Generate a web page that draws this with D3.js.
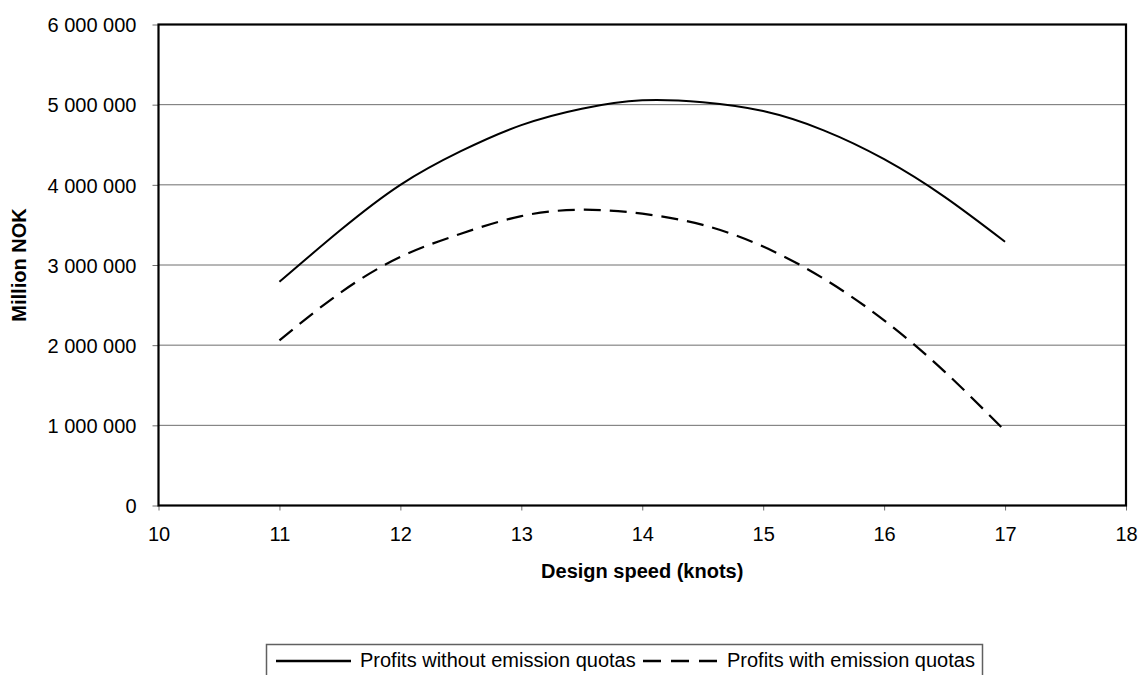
<!DOCTYPE html>
<html>
<head>
<meta charset="utf-8">
<script src="https://cdn.jsdelivr.net/npm/d3@7"></script>
<style>
  body { margin: 0; background: #fff; overflow: hidden; }
  text { font-family: "Liberation Sans", Arial, sans-serif; }
  .axis-title { font-weight: bold; font-size: 20px; }
</style>
</head>
<body>
<div id="chart"></div>
<script>
const width = 1139;
const height = 675;
const margin = { top: 24.5, right: 13, bottom: 169.5, left: 158.5 };
const innerWidth = width - margin.left - margin.right;
const innerHeight = height - margin.top - margin.bottom;

// data
const speeds = [11, 11.5, 12, 12.5, 13, 13.5, 14, 14.5, 15, 15.5, 16, 16.5, 17];
const profitsNoQuota = [2790000, 3430000, 4000000, 4420000, 4745000, 4950000, 5055000, 5030000, 4920000, 4680000, 4320000, 3850000, 3290000];
const profitsQuota = [2060000, 2650000, 3100000, 3390000, 3610000, 3690000, 3640000, 3500000, 3230000, 2830000, 2310000, 1670000, 930000];
const seriesNames = ["Profits without emission quotas", "Profits with emission quotas"];
const xTicks = [10, 11, 12, 13, 14, 15, 16, 17, 18];
const yTicks = [0, 1000000, 2000000, 3000000, 4000000, 5000000, 6000000];

const svg = d3.select("#chart")
    .append("svg")
    .attr("width", width)
    .attr("height", height)
    .style("display", "block");

const g = svg.append("g")
    .attr("transform", `translate(${margin.left},${margin.top})`);

const x = d3.scaleLinear().domain([10, 18]).range([0, innerWidth]);
const y = d3.scaleLinear().domain([0, 6000000]).range([innerHeight, 0]);

const fmt = d => d3.format(",")(d).replace(/,/g, " ");

// gridlines
g.selectAll(".grid")
    .data(yTicks.slice(1, -1))
    .enter()
    .append("line")
    .attr("x1", 0)
    .attr("x2", innerWidth)
    .attr("y1", d => y(d))
    .attr("y2", d => y(d))
    .attr("stroke", "#6e6e6e")
    .attr("stroke-width", 1);

// axes
const xAxis = g.append("g")
    .attr("transform", `translate(0,${innerHeight})`)
    .call(d3.axisBottom(x).tickValues(xTicks).tickSize(5).tickPadding(16).tickSizeOuter(0));

const yAxis = g.append("g")
    .call(d3.axisLeft(y).tickValues(yTicks).tickFormat(fmt).tickSize(6).tickPadding(16).tickSizeOuter(0));

[xAxis, yAxis].forEach(a => {
    a.attr("font-size", 20).attr("font-family", "Liberation Sans, Arial, sans-serif");
    a.select(".domain").remove();
    a.selectAll(".tick line").attr("stroke", "#6e6e6e");
    a.selectAll(".tick text").attr("fill", "#000");
});
yAxis.selectAll(".tick text").attr("dy", "0.36em");

// plot frame
g.append("rect")
    .attr("x", 0)
    .attr("y", 0)
    .attr("width", innerWidth)
    .attr("height", innerHeight)
    .attr("fill", "none")
    .attr("stroke", "#000")
    .attr("stroke-width", 2.2);

// lines
const line = d3.line()
    .x((d, i) => x(speeds[i]))
    .y(d => y(d))
    .curve(d3.curveNatural);

g.append("path")
    .datum(profitsNoQuota)
    .attr("d", line)
    .attr("fill", "none")
    .attr("stroke", "#000")
    .attr("stroke-width", 2);

g.append("path")
    .datum(profitsQuota)
    .attr("d", line)
    .attr("fill", "none")
    .attr("stroke", "#000")
    .attr("stroke-width", 2.2)
    .attr("stroke-dasharray", "17,9");

// axis titles
svg.append("text")
    .attr("class", "axis-title")
    .attr("x", margin.left + innerWidth / 2)
    .attr("y", 578)
    .style("text-anchor", "middle")
    .text("Design speed (knots)");

svg.append("text")
    .attr("class", "axis-title")
    .attr("transform", `translate(26,${margin.top + innerHeight / 2}) rotate(-90)`)
    .style("text-anchor", "middle")
    .text("Million NOK");

// legend (box runs past the bottom edge, as in the original)
const legend = svg.append("g");
legend.append("path")
    .attr("d", "M266.5,676V644.5H982.5V676")
    .attr("fill", "#fff")
    .attr("stroke", "#606060")
    .attr("stroke-width", 1.5);

const legendItems = [
    { name: seriesNames[0], x: 276, dash: null },
    { name: seriesNames[1], x: 643, dash: "18,10" }
];
legendItems.forEach(item => {
    legend.append("line")
        .attr("x1", item.x)
        .attr("x2", item.x + 75)
        .attr("y1", 661)
        .attr("y2", 661)
        .attr("stroke", "#000")
        .attr("stroke-width", 2.5)
        .attr("stroke-dasharray", item.dash);
    legend.append("text")
        .attr("x", item.x + 84)
        .attr("y", 667)
        .style("font-size", "20px")
        .text(item.name);
});
</script>
</body>
</html>
